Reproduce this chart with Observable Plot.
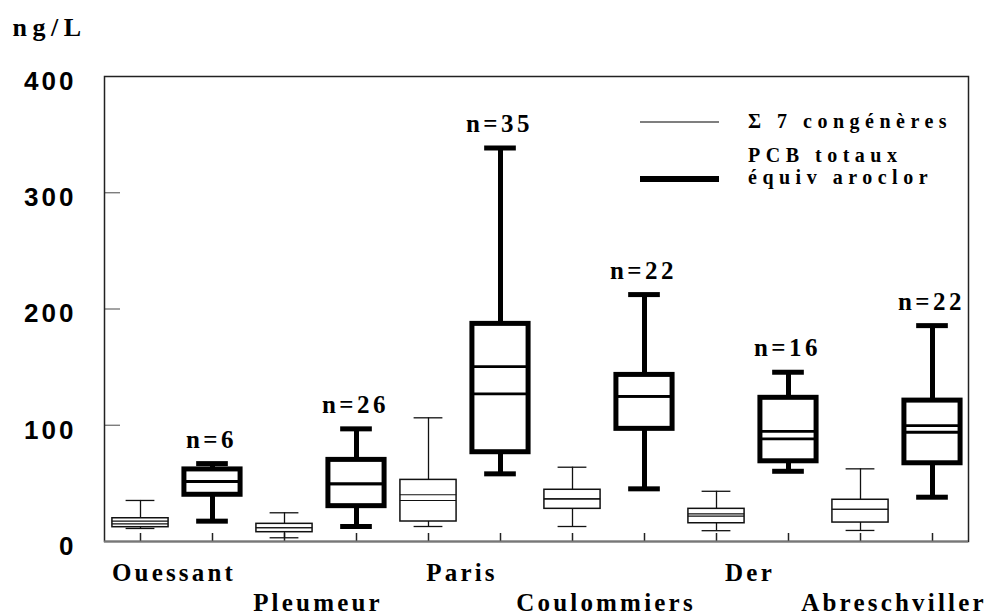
<!DOCTYPE html>
<html><head><meta charset="utf-8">
<script src="https://cdn.jsdelivr.net/npm/d3@7"></script>
<script src="https://cdn.jsdelivr.net/npm/@observablehq/plot@0.6"></script>
<style>
body{margin:0;background:#fff;}
#wrap{position:relative;width:994px;height:615px;overflow:hidden;}
#wrap svg.plot{position:absolute;left:0;top:0;}
#legend{position:absolute;left:0;top:0;pointer-events:none;}
#legend text{font-family:"Liberation Serif","Times New Roman",serif;font-weight:bold;font-size:20px;letter-spacing:5.5px;fill:#000;}
</style></head>
<body><div id="wrap"></div>
<script>
const sites = ["Ouessant","Pleumeur","Paris","Coulommiers","Der","Abreschviller"];
const nCounts = [6,26,35,22,16,22];
// Σ 7 congénères (thin boxes)
const thinMin = [11.2, 3.2, 12.9, 12.9, 9.3, 9.5];
const thinQ1  = [12.3, 8.0, 17.2, 28.1, 15.7, 16.3];
const thinL1  = [15.2, 11.8, 35.3, 36.7, 21.8, 27.8];
const thinL2  = [17.5, 11.8, 40.2, 36.7, 23.8, 27.8];
const thinQ3  = [20.0, 15.2, 53.0, 44.5, 28.1, 35.9];
const thinMax = [35.3, 24.7, 106.4, 63.9, 43.2, 62.5];
// PCB totaux équiv aroclor (thick boxes)
const thickMin = [17.5, 12.9, 58.2, 45.3, 60.4, 38.1];
const thickQ1  = [40.2, 30.4, 76.8, 96.9, 69.0, 67.3];
const thickL1  = [51.6, 49.6, 127.0, 124.9, 88.3, 94.0];
const thickL2  = [51.6, 49.6, 150.5, 124.9, 94.8, 99.7];
const thickQ3  = [62.0, 70.2, 187.2, 143.3, 123.6, 121.2];
const thickMax = [67.0, 96.9, 338.5, 212.4, 145.6, 185.7];
const yTicks = [0, 100, 200, 300, 400];
const yInnerTicks = [100, 200, 300];

const thin = sites.map((s, i) => ({site: s, pos: 2*i + 1, min: thinMin[i], q1: thinQ1[i], l1: thinL1[i], l2: thinL2[i], q3: thinQ3[i], max: thinMax[i]}));
const thick = sites.map((s, i) => ({site: s, pos: 2*i + 2, n: nCounts[i], min: thickMin[i], q1: thickQ1[i], l1: thickL1[i], l2: thickL2[i], q3: thickQ3[i], max: thickMax[i]}));
const positions = thin.map(d => d.pos).concat(thick.map(d => d.pos));
const siteRows = sites.map((s, i) => ({site: s, center: 2*i + 1.5, row: i % 2}));

const serif = "Liberation Serif, Times New Roman, serif";
const BW = 0.39, CW_THIN = 0.2, CW_THICK = 0.22;

function boxMarks(rows, sw, swBox, swLine, cw, color) {
  return [
    Plot.ruleX(rows, {x: "pos", y1: "min", y2: "max", stroke: color, strokeWidth: sw}),
    Plot.ruleY(rows, {y: "max", x1: d => d.pos - cw, x2: d => d.pos + cw, stroke: color, strokeWidth: sw}),
    Plot.ruleY(rows, {y: "min", x1: d => d.pos - cw, x2: d => d.pos + cw, stroke: color, strokeWidth: sw}),
    Plot.rect(rows, {x1: d => d.pos - BW, x2: d => d.pos + BW, y1: "q1", y2: "q3", fill: "white", stroke: color, strokeWidth: swBox}),
    Plot.ruleY(rows, {y: "l1", x1: d => d.pos - BW, x2: d => d.pos + BW, stroke: color, strokeWidth: swLine}),
    Plot.ruleY(rows, {y: "l2", x1: d => d.pos - BW, x2: d => d.pos + BW, stroke: color, strokeWidth: swLine})
  ];
}

const chart = Plot.plot({
  width: 994, height: 615,
  marginTop: 76, marginBottom: 74, marginLeft: 104, marginRight: 26,
  x: {type: "linear", domain: [0.5, 12.5], axis: null},
  y: {domain: [0, 400], axis: null},
  style: {background: "white"},
  marks: [
    Plot.tickY(yInnerTicks, {y: d => d, insetRight: 848, stroke: "#666", strokeWidth: 1.2}),
    Plot.tickX(positions, {x: d => d, insetTop: 457, stroke: "#222", strokeWidth: 1.5}),
    ...boxMarks(thin, 1.3, 1.5, 1.1, CW_THIN, "#111"),
    ...boxMarks(thick, 5, 5, 2.8, CW_THICK, "#000"),
    Plot.frame({stroke: "#222", strokeWidth: 1.5}),
    Plot.ruleY([0], {stroke: "#777", strokeWidth: 2}),
    Plot.text(yTicks, {y: d => d, text: d => String(d), frameAnchor: "left", dx: -28, dy: 5, textAnchor: "end",
      fontFamily: "Liberation Sans, Arial, sans-serif", fontWeight: "bold", fontSize: 26}),
    Plot.text(thick, {x: "pos", y: "max", text: d => "n=" + d.n, dy: -16, dx: -1, lineAnchor: "bottom", textAnchor: "middle",
      fontFamily: serif, fontWeight: "bold", fontSize: 25}),
    Plot.text(siteRows.filter(d => d.row === 0), {x: "center", text: "site", frameAnchor: "bottom", dy: 31, dx: -2.5, lineAnchor: "middle",
      fontFamily: serif, fontWeight: "bold", fontSize: 25}),
    Plot.text(siteRows.filter(d => d.row === 1), {x: "center", text: "site", frameAnchor: "bottom", dy: 61, dx: -2.5, lineAnchor: "middle",
      fontFamily: serif, fontWeight: "bold", fontSize: 25}),
    Plot.text(["ng/L"], {frameAnchor: "top-left", dx: -92, dy: -41, lineAnchor: "bottom", textAnchor: "start",
      fontFamily: serif, fontWeight: "bold", fontSize: 26})
  ]
});
chart.classList.add("plot");
// letter spacing to match the spaced-out typography of the original
d3.select(chart).selectAll("text").each(function() {
  const t = this.textContent;
  if (sites.includes(t)) this.style.letterSpacing = "3.2px";
  else if (t.startsWith("n=")) this.style.letterSpacing = "3.5px";
  else if (t === "ng/L") this.style.letterSpacing = "5.5px";
  else if (/^\d+$/.test(t)) this.style.letterSpacing = "3px";
});
const wrap = document.getElementById("wrap");
wrap.appendChild(chart);

// legend overlay
const legendItems = [
  {lines: ["Σ 7 congénères"], sw: 1.5, color: "#555"},
  {lines: ["PCB totaux", "équiv aroclor"], sw: 6, color: "#000"}
];
const ns = "http://www.w3.org/2000/svg";
const lg = document.createElementNS(ns, "svg");
lg.setAttribute("id", "legend");
lg.setAttribute("width", 994); lg.setAttribute("height", 615);
const legendY = [122, 179], legendTextY = [[128], [162, 184]];
legendItems.forEach((it, k) => {
  const l = document.createElementNS(ns, "line");
  l.setAttribute("x1", 640); l.setAttribute("x2", 719);
  l.setAttribute("y1", legendY[k]); l.setAttribute("y2", legendY[k]);
  l.setAttribute("stroke", it.color); l.setAttribute("stroke-width", it.sw);
  lg.appendChild(l);
  it.lines.forEach((t, j) => {
    const tx = document.createElementNS(ns, "text");
    tx.setAttribute("x", 748); tx.setAttribute("y", legendTextY[k][j]);
    tx.textContent = t;
    lg.appendChild(tx);
  });
});
wrap.appendChild(lg);
</script>
</body></html>
